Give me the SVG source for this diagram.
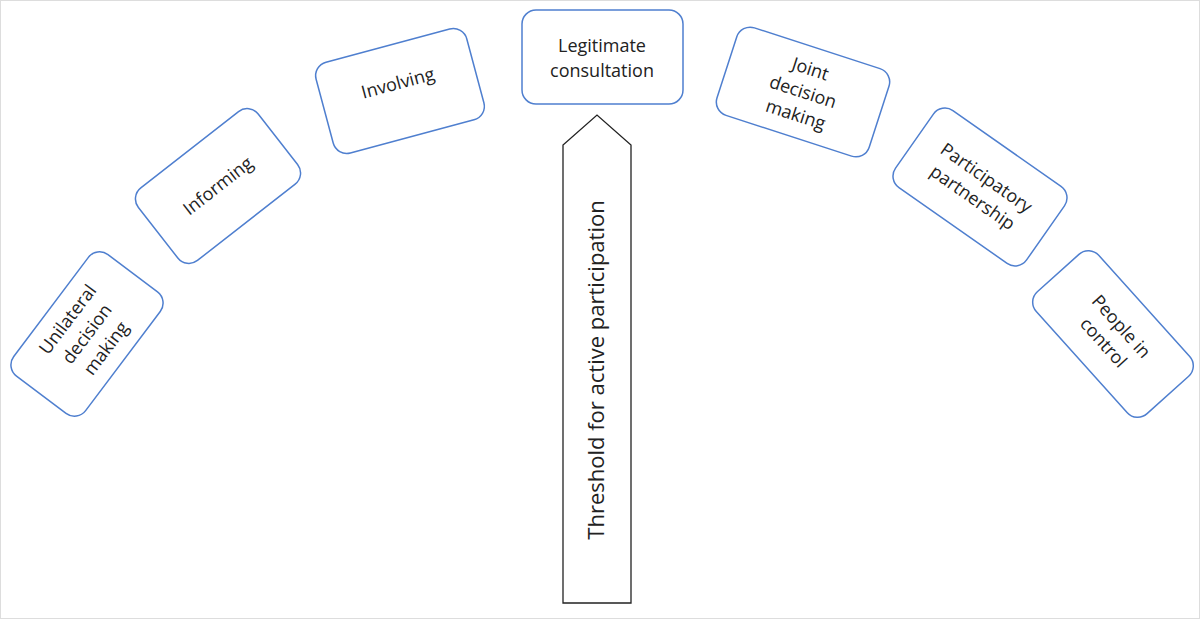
<svg xmlns="http://www.w3.org/2000/svg" width="1200" height="619" viewBox="0 0 1200 619">
<style>
.b{fill:#fff;stroke:#4f7fcf;stroke-width:1.5}
.t{font-family:"Open Sans","Liberation Sans",sans-serif;font-size:18px;fill:#222;text-anchor:middle}
</style>
<rect x="0.5" y="0.5" width="1199" height="618" fill="#fff" stroke="#ddd"/>
<g id="n1" transform="translate(87,334) rotate(-53)"><rect class="b" x="-76" y="-45" width="152" height="90" rx="14"/><text class="t" y="-18">Unilateral</text><text class="t" y="6">decision</text><text class="t" y="30">making</text></g>
<g id="n2" transform="translate(218,186) rotate(-38)"><rect class="b" x="-76" y="-46" width="152" height="92" rx="14"/><text class="t" y="6">Informing</text></g>
<g id="n3" transform="translate(400,91) rotate(-15)"><rect class="b" x="-78" y="-47" width="156" height="94" rx="14"/><text class="t" y="-2">Involving</text></g>
<g id="n4"><rect class="b" x="522" y="10" width="161" height="94" rx="14"/><text class="t" x="602" y="52">Legitimate</text><text class="t" x="602" y="77">consultation</text></g>
<g id="n5" transform="translate(803,92) rotate(18)"><rect class="b" x="-80" y="-46" width="160" height="92" rx="14"/><text class="t" y="-18">Joint</text><text class="t" y="6">decision</text><text class="t" y="30">making</text></g>
<g id="n6" transform="translate(980,187) rotate(35)"><rect class="b" x="-80" y="-47" width="160" height="94" rx="14"/><text class="t" y="-5">Participatory</text><text class="t" y="19">partnership</text></g>
<g id="n7" transform="translate(1113,334) rotate(48)"><rect class="b" x="-82" y="-42" width="164" height="84" rx="14"/><text class="t" y="-5">People in</text><text class="t" y="19">control</text></g>
<g id="connectors"><g id="arrow"><path d="M563,603 L563,145 L597,115 L631,145 L631,603 Z" fill="#fff" stroke="#222" stroke-width="1.3"/><text class="t" style="font-size:22px" transform="translate(604,370) rotate(-90)">Threshold for active participation</text></g></g>
</svg>
